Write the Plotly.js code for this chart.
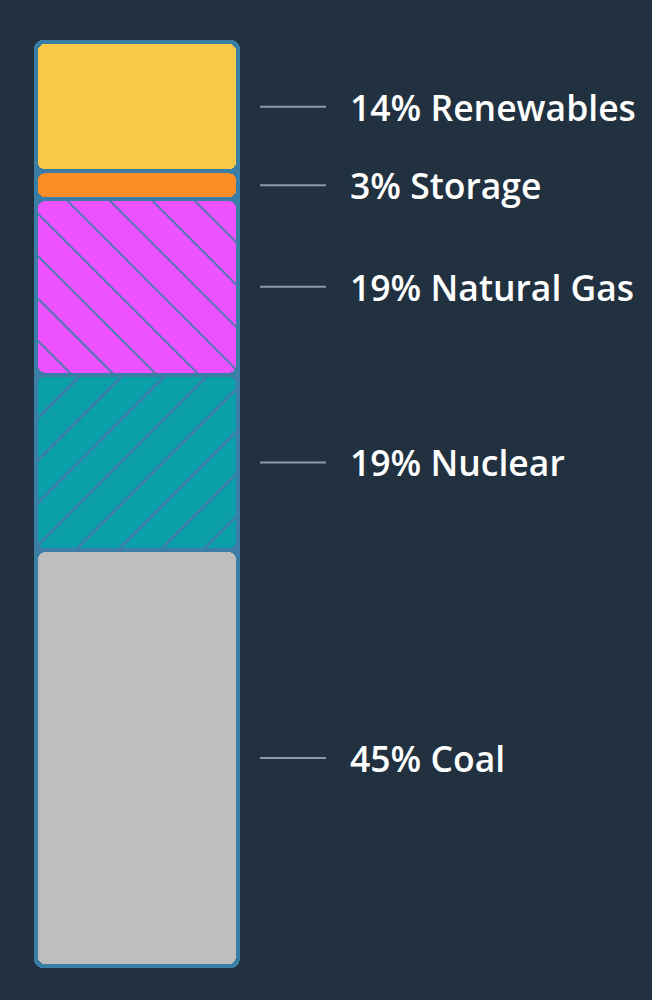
<!DOCTYPE html>
<html>
<head>
<meta charset="utf-8">
<script src="https://cdn.plot.ly/plotly-3.0.1.min.js"></script>
<style>
  html, body { margin: 0; padding: 0; background: #223140; }
  #chart { width: 652px; height: 1000px; }
</style>
</head>
<body>
<div id="chart"></div>
<script>
// Energy mix, stacked from the bottom up
const categories = ['Coal', 'Nuclear', 'Natural Gas', 'Storage', 'Renewables'];
const shares = [45, 19, 19, 3, 14];
const labels = ['45% Coal', '19% Nuclear', '19% Natural Gas', '3% Storage', '14% Renewables'];
const fillColors = ['#bebebe', '#0ba0a9', '#ee52ff', '#fd8d27', '#f6c947'];
const hatchShapes = ['', '/', '\\', '', ''];

const W = 652, H = 1000;
const margin = { l: 34, r: 412, t: 40, b: 32 };
const plotW = W - margin.l - margin.r;
const plotH = H - margin.t - margin.b;
const padPx = 2;          // frame padding beyond the stack ends
const gapPx = 2;          // half of the gap between segments
const total = shares.reduce((a, b) => a + b, 0);
const k = (plotH - 2 * padPx) / total;   // px per unit
const pad = padPx / k, gap = gapPx / k;
const frameColor = '#3a7ea6';
const segWidth = (plotW - 8) / plotW;

// Each block is drawn as two bars growing away from its middle (overlapping
// a little there), so that both its top and bottom ends get rounded corners.
function roundedBlock(lo, hi, width, marker, name, overlapPx) {
  const c = (lo + hi) / 2;
  const ov = Math.min(overlapPx / k, (hi - lo) / 2);
  return [
    { type: 'bar', name: name, x: [0], base: [c - ov], y: [hi - c + ov],
      width: [width], marker: marker, hoverinfo: 'skip', showlegend: false },
    { type: 'bar', name: name, x: [0], base: [c + ov], y: [lo - c - ov],
      width: [width], marker: marker, hoverinfo: 'skip', showlegend: false }
  ];
}

const traces = roundedBlock(-pad, total + pad, 1,
  { color: frameColor, cornerradius: 9, line: { width: 0 } }, 'frame', 30);

const shapes = [];
const annotations = [];
let start = 0;
shares.forEach((v, i) => {
  const end = start + v;
  const c = (start + end) / 2;
  const marker = { color: fillColors[i], cornerradius: 7, line: { width: 0 } };
  if (hatchShapes[i]) {
    marker.pattern = {
      shape: hatchShapes[i], size: 30,
      solidity: hatchShapes[i] === '/' ? 0.095 : 0.06,
      bgcolor: fillColors[i], fgcolor: '#3a7ea6', fillmode: 'replace'
    };
  }
  traces.push(...roundedBlock(start + gap, end - gap, segWidth, marker, categories[i], 20));
  shapes.push({
    type: 'line', xref: 'paper', yref: 'y',
    x0: (260 - margin.l) / plotW, x1: (326 - margin.l) / plotW, y0: c, y1: c,
    line: { color: '#8a99a3', width: 2 }
  });
  annotations.push({
    xref: 'paper', yref: 'y', x: (348 - margin.l) / plotW, y: c,
    xanchor: 'left', yanchor: 'middle', showarrow: false,
    text: labels[i],
    font: { family: 'Open Sans, Noto Sans, sans-serif', size: 35.5, color: '#ffffff', weight: 600 }
  });
  start = end;
});

const layout = {
  width: W, height: H, margin: margin,
  paper_bgcolor: '#223140', plot_bgcolor: '#223140',
  barmode: 'overlay', bargap: 0,
  xaxis: { range: [-0.5, 0.5], visible: false, fixedrange: true },
  yaxis: { range: [-pad, total + pad], visible: false, fixedrange: true },
  shapes: shapes, annotations: annotations, showlegend: false
};

Plotly.newPlot('chart', traces, layout, { displayModeBar: false, staticPlot: true });
</script>
</body>
</html>
